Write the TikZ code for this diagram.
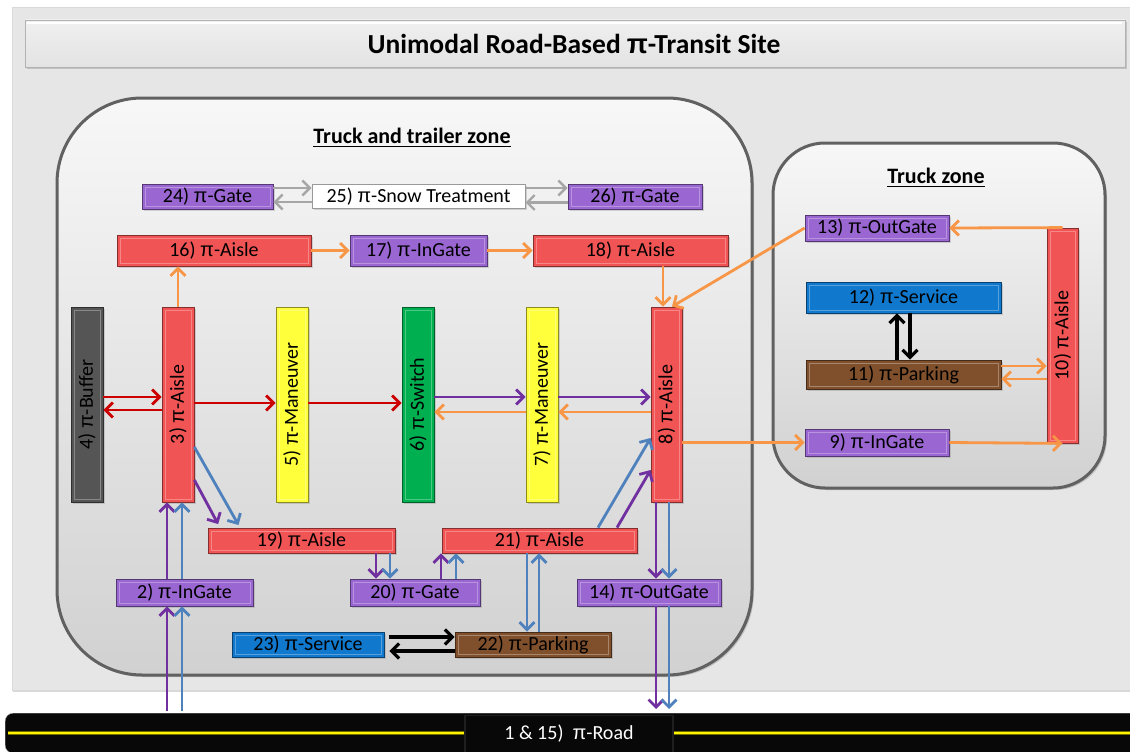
\documentclass[tikz,border=0pt]{standalone}
\usepackage{fontspec}
\setmainfont{Carlito}
\newfontfamily\pifont{Liberation Sans}
\usetikzlibrary{arrows.meta,shadows,calc}
\definecolor{cred}{RGB}{240,84,84}
\definecolor{cpur}{RGB}{153,102,210}
\definecolor{cblu}{RGB}{16,120,205}
\definecolor{cbrn}{RGB}{128,80,44}
\definecolor{cyel}{RGB}{255,255,60}
\definecolor{cgrn}{RGB}{0,176,80}
\definecolor{cdgr}{RGB}{85,85,85}
\definecolor{aora}{RGB}{247,150,70}
\definecolor{apur}{RGB}{112,48,160}
\definecolor{ablu}{RGB}{79,129,189}
\definecolor{ared}{RGB}{204,0,0}
\definecolor{panel}{RGB}{230,230,230}
\newcommand\lbl{\fontsize{20}{24}\selectfont}
\newcommand\zfont{\fontsize{22}{26}\selectfont\bfseries}
\newcommand\tfont{\fontsize{27.5}{32}\selectfont\bfseries}
\newcommand\PI{{\pifont π}}
\tikzset{
  pibox/.style={rectangle, inner sep=0pt, fill=#1, draw=#1!55!black, line width=0.8pt,
    font=\lbl, text=black,
    drop shadow={opacity=0.3, shadow xshift=1.5pt, shadow yshift=-1.5pt},
    path picture={\draw[#1!70!white, line width=1pt]
      ([shift={(3pt,-3pt)}]path picture bounding box.north west) rectangle
      ([shift={(-3pt,3pt)}]path picture bounding box.south east);}},
  arrbase/.style={line width=2.8pt, -{Straight Barb[length=7.5pt,width=15pt]}},
  oarr/.style={arrbase, draw=aora},
  parr/.style={arrbase, draw=apur},
  barr/.style={arrbase, draw=ablu},
  rarr/.style={arrbase, draw=ared},
  karr/.style={arrbase, line width=3.2pt, draw=black},
  garr/.style={arrbase, line width=2.4pt, draw=black!35},
  zone/.style={top color=white!97!black, bottom color=black!18, draw=black!62, line width=3pt,
    drop shadow={opacity=0.35, shadow xshift=2pt, shadow yshift=-2pt}},
}
\begin{document}
\begin{tikzpicture}[x=1pt,y=-1pt]
\useasboundingbox (0,0) rectangle (1130,752);
\fill[white] (0,0) rectangle (1130,752);
% outer panel
\path[fill=panel, draw=black!15, line width=0.8pt,
  drop shadow={opacity=0.3, shadow xshift=1pt, shadow yshift=-2pt}] (12,7) rectangle (1135,690);
% title box
\path[top color=black!6, bottom color=black!11, draw=black!30, line width=0.8pt,
  drop shadow={opacity=0.35, shadow xshift=2pt, shadow yshift=-2.5pt}] (25,20) rectangle (1125,67);
\draw[white, line width=2pt] (27,23) -- (1122,23);
\node[font=\tfont, inner sep=0pt] (title) at (574,44) {Unimodal Road-Based \PI-Transit Site};
% zones
\path[zone, rounded corners=85pt] (57,98) rectangle (752,675);
\path[zone, rounded corners=52pt] (773,143) rectangle (1105,488);
\node[font=\zfont, inner sep=0pt] (tz1) at (412,136) {Truck and trailer zone};
\draw[line width=1.6pt] ([yshift=-3pt]tz1.base west) -- ([yshift=-3pt]tz1.base east);
\node[font=\zfont, inner sep=0pt] (tz2) at (936,176) {Truck zone};
\draw[line width=1.6pt] ([yshift=-3pt]tz2.base west) -- ([yshift=-3pt]tz2.base east);
% road
\node[fill=black!97, draw=black!40, rounded corners=8pt, minimum width=1140, minimum height=40,
  anchor=north west, inner sep=0pt] (road) at (5,713) {};
\draw[line width=4pt, draw={rgb,255:red,110;green,110;blue,0}] (8,733) -- (1130,733);
\draw[line width=2.2pt, draw=yellow] (8,733) -- (1130,733);
\node[rectangle, fill=black!97, draw=black!88, line width=1.5pt, minimum width=208, minimum height=37,
  inner sep=0pt, text=white, font=\lbl] (roadlbl) at (569,734) {1 \& 15)\ \ \PI-Road};
% nodes top
\node[pibox=cpur, minimum width=131, minimum height=25] (n24) at (207.5,196.5) {24) \PI-Gate};
\node[rectangle, inner sep=0pt, fill=white, draw=black!40, line width=1pt, font=\lbl,
  minimum width=213, minimum height=24,
  drop shadow={opacity=0.3, shadow xshift=1.5pt, shadow yshift=-1.5pt}] (n25) at (418.5,196.5) {25) \PI-Snow Treatment};
\node[pibox=cpur, minimum width=134, minimum height=25] (n26) at (635,197) {26) \PI-Gate};
\node[pibox=cred, minimum width=194, minimum height=31] (n16) at (214,250.5) {16) \PI-Aisle};
\node[pibox=cpur, minimum width=137, minimum height=31] (n17) at (418.5,250.5) {17) \PI-InGate};
\node[pibox=cred, minimum width=195, minimum height=31] (n18) at (630.5,250.5) {18) \PI-Aisle};
% vertical nodes
\node[pibox=cdgr, minimum width=32, minimum height=195] (n4) at (87,404.5) {\rotatebox{90}{4) \PI-Buffer}};
\node[pibox=cred, minimum width=32, minimum height=195] (n3) at (178,404.5) {\rotatebox{90}{3) \PI-Aisle}};
\node[pibox=cyel, minimum width=32, minimum height=195] (n5) at (292,404.5) {\rotatebox{90}{5) \PI-Maneuver}};
\node[pibox=cgrn, minimum width=32, minimum height=195] (n6) at (418,404.5) {\rotatebox{90}{6) \PI-Switch}};
\node[pibox=cyel, minimum width=32, minimum height=195] (n7) at (542,404.5) {\rotatebox{90}{7) \PI-Maneuver}};
\node[pibox=cred, minimum width=31, minimum height=195] (n8) at (666.5,404.5) {\rotatebox{90}{8) \PI-Aisle}};
% lower nodes
\node[pibox=cred, minimum width=187, minimum height=25] (n19) at (301.5,540.5) {19) \PI-Aisle};
\node[pibox=cred, minimum width=195, minimum height=25] (n21) at (539.5,540.5) {21) \PI-Aisle};
\node[pibox=cpur, minimum width=137, minimum height=27] (n2) at (184.5,592.5) {2) \PI-InGate};
\node[pibox=cpur, minimum width=130, minimum height=27] (n20) at (415,592.5) {20) \PI-Gate};
\node[pibox=cpur, minimum width=144, minimum height=27] (n14) at (649,592.5) {14) \PI-OutGate};
\node[pibox=cblu, minimum width=152, minimum height=25] (n23) at (308,644.5) {23) \PI-Service};
\node[pibox=cbrn, minimum width=156, minimum height=25] (n22) at (533,644.5) {22) \PI-Parking};
% truck zone nodes
\node[pibox=cpur, minimum width=144, minimum height=26] (n13) at (877,228) {13) \PI-OutGate};
\node[pibox=cblu, minimum width=195, minimum height=31] (n12) at (903.5,297.5) {12) \PI-Service};
\node[pibox=cbrn, minimum width=195, minimum height=29] (n11) at (903.5,374.5) {11) \PI-Parking};
\node[pibox=cpur, minimum width=144, minimum height=27] (n9) at (877,442.5) {9) \PI-InGate};
\node[pibox=cred, minimum width=31, minimum height=215] (n10) at (1062.5,335.5) {\rotatebox{90}{10) \PI-Aisle}};
% gray arrows
\draw[garr] ([yshift=8.5pt]n24.east) -- ([yshift=8.5pt]n24.east -| n25.west);
\draw[garr] ([yshift=-5.5pt]n25.west) -- ([yshift=-5.5pt]n25.west -| n24.east);
\draw[garr] ([yshift=8.5pt]n25.east) -- ([yshift=8.5pt]n25.east -| n26.west);
\draw[garr] ([yshift=-5.5pt]n26.west) -- ([yshift=-5.5pt]n26.west -| n25.east);
% orange
\draw[oarr] (n3.north) -- (n3.north |- n16.south);
\draw[oarr] (n16.east) -- (n17.west);
\draw[oarr] (n17.east) -- (n18.west);
\draw[oarr] ([xshift=-3.5pt]n8.north |- n18.south) -- ([xshift=-3.5pt]n8.north);
\draw[oarr] (n13.west) -- ([xshift=5.5pt]n8.north);
\draw[oarr] (n10.north) -- (n13.east);
\draw[oarr] (n9.east) -- (n10.south);
\draw[oarr] ([yshift=8.5pt]n11.east) -- ([yshift=8.5pt]n11.east -| n10.west);
\draw[oarr] ([yshift=-4.5pt]n10.west |- n11.east) -- ([yshift=-4.5pt]n11.east);
\draw[oarr] (n8.east |- n9.west) -- (n9.west);
% red
\draw[rarr] ([yshift=7.5pt]n4.east) -- ([yshift=7.5pt]n4.east -| n3.west);
\draw[rarr] ([yshift=-5.5pt]n3.west) -- ([yshift=-5.5pt]n3.west -| n4.east);
\draw[rarr] ([yshift=1.5pt]n3.east) -- ([yshift=1.5pt]n3.east -| n5.west);
\draw[rarr] ([yshift=1.5pt]n5.east) -- ([yshift=1.5pt]n5.east -| n6.west);
% middle purple / orange
\draw[parr] ([yshift=7.5pt]n6.east) -- ([yshift=7.5pt]n6.east -| n7.west);
\draw[oarr] ([yshift=-7.5pt]n7.west) -- ([yshift=-7.5pt]n7.west -| n6.east);
\draw[parr] ([yshift=7.5pt]n7.east) -- ([yshift=7.5pt]n7.east -| n8.west);
\draw[oarr] ([yshift=-7.5pt]n8.west) -- ([yshift=-7.5pt]n8.west -| n7.east);
% 3 -> 19
\draw[parr, shorten >=4pt] ([yshift=-75.5pt]n3.east) -- ([xshift=-81.5pt]n19.north);
\draw[barr, shorten >=3pt] ([yshift=-42.5pt]n3.east) -- ([xshift=-61.5pt]n19.north);
% road -> 2 -> 3
\draw[parr, shorten <=2pt] ([xshift=-17.5pt]n2.south |- road.north) -- ([xshift=-17.5pt]n2.south);
\draw[barr, shorten <=2pt] ([xshift=-2.5pt]n2.south |- road.north) -- ([xshift=-2.5pt]n2.south);
\draw[parr] ([xshift=-17.5pt]n2.north) -- ([xshift=-17.5pt]n2.north |- n3.south);
\draw[barr] ([xshift=-2.5pt]n2.north) -- ([xshift=-2.5pt]n2.north |- n3.south);
% 19 -> 20 -> 21
\draw[parr] ([xshift=-39pt]n20.north |- n19.south) -- ([xshift=-39pt]n20.north);
\draw[barr] ([xshift=-25pt]n20.north |- n19.south) -- ([xshift=-25pt]n20.north);
\draw[parr] ([xshift=26pt]n20.north) -- ([xshift=26pt]n20.north |- n21.south);
\draw[barr] ([xshift=41pt]n20.north) -- ([xshift=41pt]n20.north |- n21.south);
% 21 -> 8
\draw[barr] ([xshift=58.5pt]n21.north) -- ([yshift=-33.5pt]n8.west);
\draw[parr] ([xshift=77.5pt]n21.north) -- ([yshift=-65.5pt]n8.west);
% 21 <-> 22
\draw[barr] ([xshift=-6pt]n22.north |- n21.south) -- ([xshift=-6pt]n22.north);
\draw[barr] ([xshift=6pt]n22.north) -- ([xshift=6pt]n22.north |- n21.south);
% 23 <-> 22
\draw[karr, shorten <=5pt] ([yshift=7.5pt]n23.east) -- ([yshift=7.5pt]n23.east -| n22.west);
\draw[karr, shorten >=5pt] ([yshift=-6.5pt]n22.west) -- ([yshift=-6.5pt]n22.west -| n23.east);
% 8 -> 14 -> road
\draw[parr] ([xshift=7pt]n14.north |- n8.south) -- ([xshift=7pt]n14.north);
\draw[barr] ([xshift=20pt]n14.north |- n8.south) -- ([xshift=20pt]n14.north);
\draw[parr, shorten >=4pt] ([xshift=7pt]n14.south) -- ([xshift=7pt]n14.south |- road.north);
\draw[barr, shorten >=4pt] ([xshift=20pt]n14.south) -- ([xshift=20pt]n14.south |- road.north);
% 11 <-> 12
\draw[karr] ([xshift=-6.5pt]n11.north) -- ([xshift=-6.5pt]n11.north |- n12.south);
\draw[karr] ([xshift=6.5pt]n12.south) -- ([xshift=6.5pt]n12.south |- n11.north);
\end{tikzpicture}
\end{document}
